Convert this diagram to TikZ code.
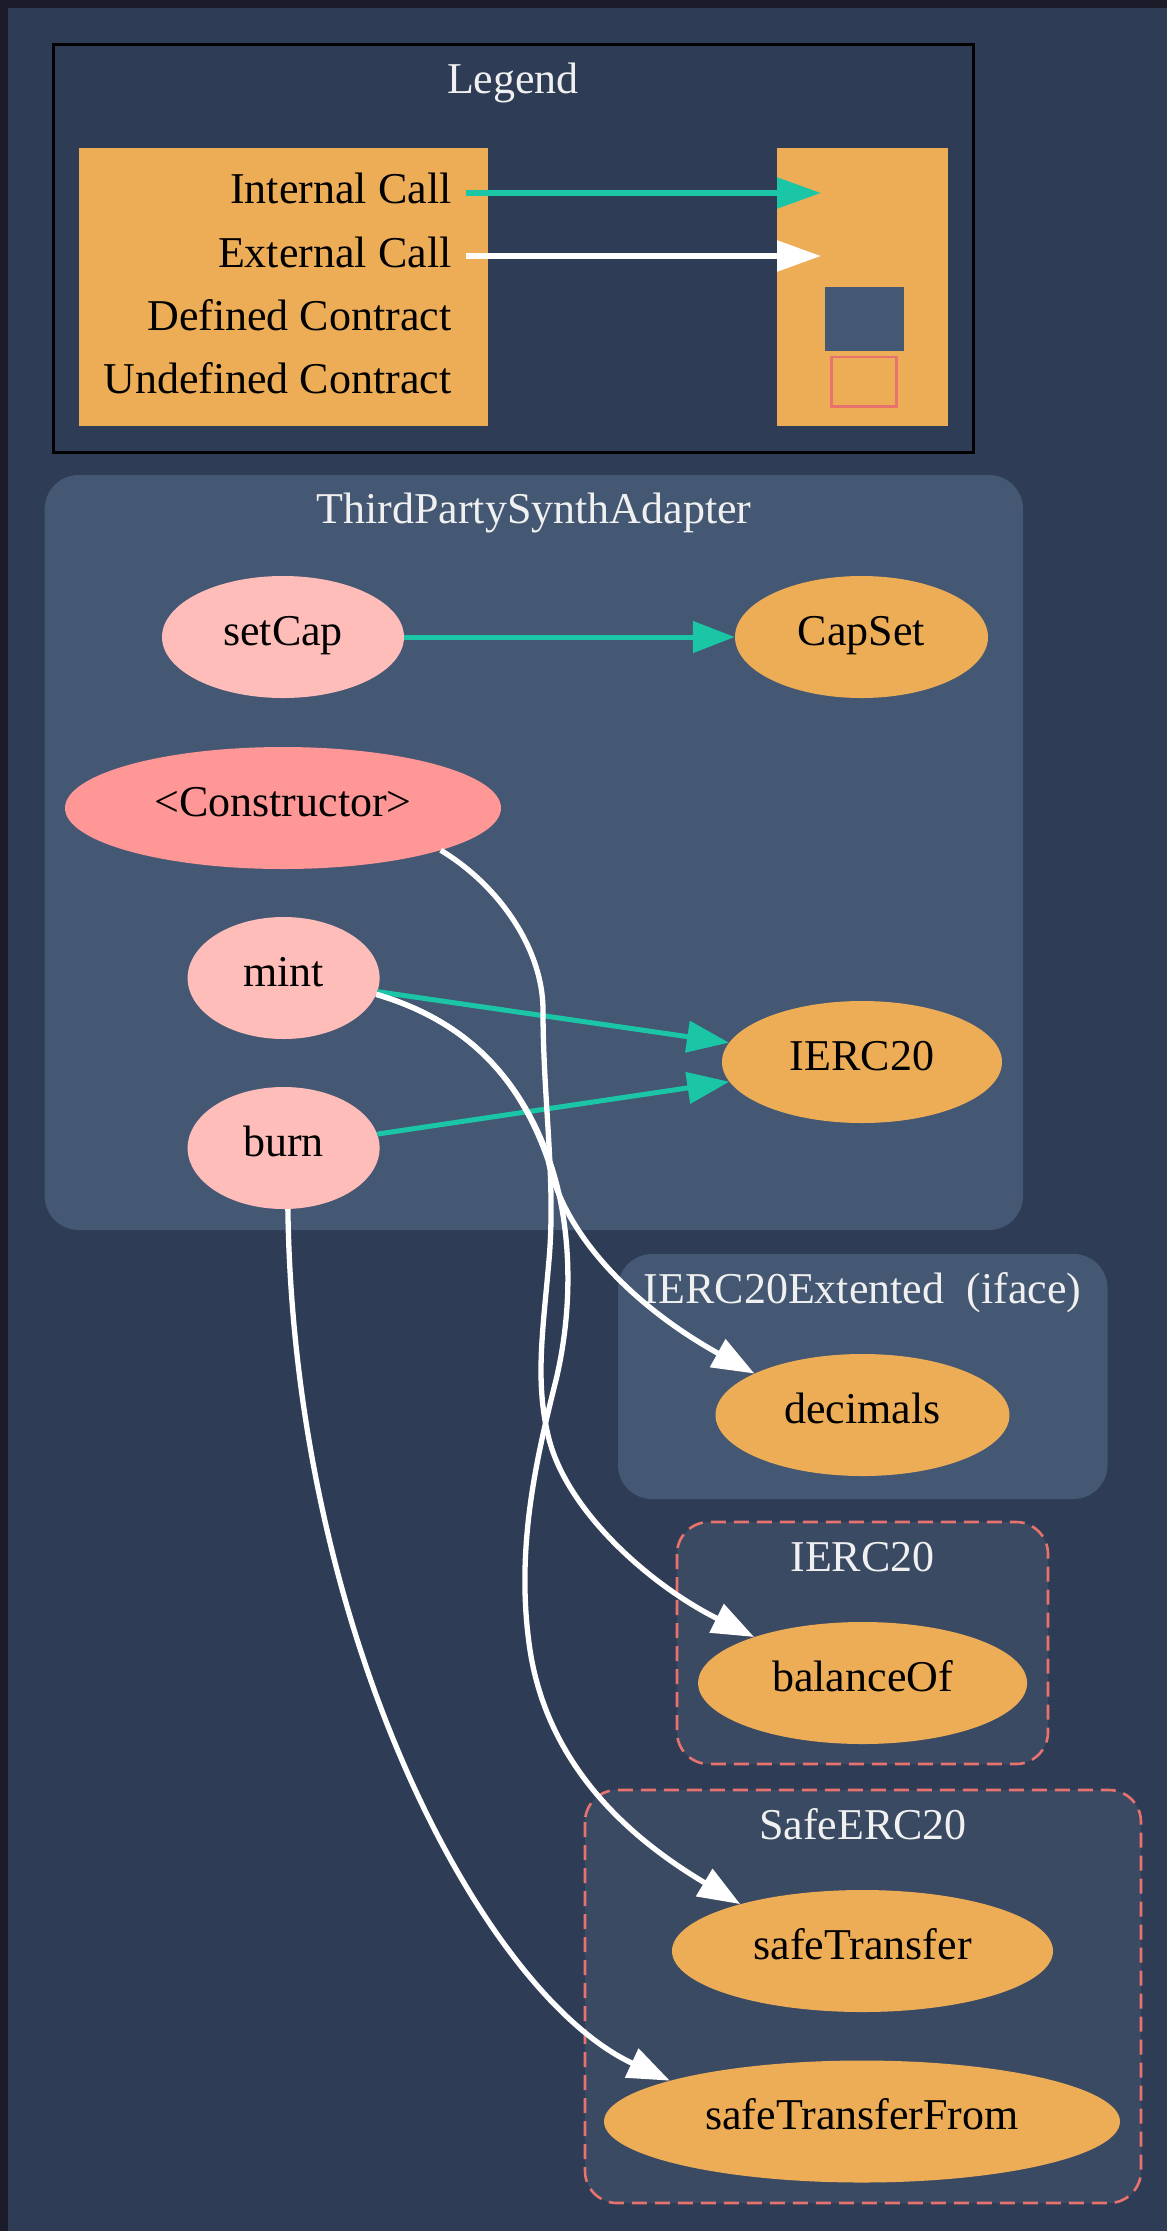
\documentclass[tikz,border=0pt]{standalone}
\usepackage{fontspec}
\setmainfont{Liberation Serif}
\usetikzlibrary{arrows.meta,shapes.geometric}

\definecolor{pagedark}{HTML}{1C1B29}
\definecolor{canvasblue}{HTML}{2E3D55}
\definecolor{clusterfill}{HTML}{445773}
\definecolor{undeffill}{HTML}{3B4A63}
\definecolor{undefline}{HTML}{E8726D}
\definecolor{fnpink}{HTML}{FFBDB9}
\definecolor{ctorpink}{HTML}{FF9797}
\definecolor{extorange}{HTML}{EDAD56}
\definecolor{callteal}{HTML}{1BC6A6}
\definecolor{titlegray}{HTML}{F0F0F0}

% strut giving every node label the same height and depth
\newcommand\nstrut{\rule[-0.33em]{0pt}{1.03em}}

\begin{document}
\begin{tikzpicture}[x=1pt,y=-1pt,
  every node/.style={font=\fontsize{44}{52}\selectfont},
  fnnode/.style n args={3}{ellipse, fill=#1, draw=none, inner sep=0pt,
    text=black, minimum width=#2, minimum height=#3},
  title/.style={anchor=base, text=titlegray},
  legendtext/.style={anchor=base east, text=black},
  internal/.style={draw=callteal, line width=5pt,
    -{Triangle[length=42pt,width=31pt]}},
  external/.style={draw=white, line width=5.3pt,
    -{Triangle[length=42pt,width=31pt]}},
  solidcluster/.style={fill=clusterfill, rounded corners=34pt},
  undefcluster/.style={fill=undeffill, draw=undefline, line width=2.6pt,
    dash pattern=on 15pt off 8pt, rounded corners=32pt},
]
\useasboundingbox (0,0) rectangle (1167,2231);

% page background
\fill[pagedark] (0,0) rectangle (1167,2231);
\fill[canvasblue] (8,8) rectangle (1167,2231);

% ---------- legend ----------
\draw[black, line width=3pt] (53.6,44) rectangle (973.5,452);
\node[title] (legendTitle) at (513,93) {Legend};
\fill[extorange] (79,148) rectangle (488,426);
\fill[extorange] (777,148) rectangle (947.5,426);
\node[legendtext] (lgInternal) at (455,203) {Internal Call};
\node[legendtext] (lgExternal) at (455,267) {External Call};
\node[legendtext] (lgDefined) at (455,330) {Defined Contract};
\node[legendtext] (lgUndefined) at (455,393) {Undefined Contract};
\coordinate (intFrom) at (466,193);
\coordinate (intTo) at (821,193);
\coordinate (extFrom) at (466,256);
\coordinate (extTo) at (821,256);
\draw[draw=callteal, line width=5.5pt, -{Triangle[length=44pt,width=30pt]}] (intFrom) -- (intTo);
\draw[draw=white, line width=5.5pt, -{Triangle[length=44pt,width=30pt]}] (extFrom) -- (extTo);
\fill[clusterfill] (824.6,287) rectangle (903.5,350.7);
\draw[undefline, line width=2.6pt] (831.5,357) rectangle (896.7,406.7);

% ---------- contract clusters ----------
\fill[solidcluster] (44.7,475) rectangle (1023,1230);
\node[title] (ttlAdapter) at (534,523) {ThirdPartySynthAdapter};

\fill[solidcluster] (618,1254) rectangle (1107.5,1499);
\node[title] (ttlExtended) at (862.5,1303) {IERC20Extented\ \ (iface)};

\draw[undefcluster] (677,1522) rectangle (1048,1764);
\node[title] (ttlIERC) at (862.5,1571) {IERC20};

\draw[undefcluster] (585,1790) rectangle (1141,2203);
\node[title] (ttlSafe) at (863,1839) {SafeERC20};

% ---------- functions ----------
\node[fnnode={fnpink}{242pt}{122pt}] (setCap) at (283,637) {\nstrut setCap};
\node[fnnode={extorange}{253pt}{122pt}] (capSet) at (861.5,637) {\nstrut CapSet};
\node[fnnode={ctorpink}{436pt}{122pt}] (ctor) at (283,808) {\nstrut <Constructor>};
\node[fnnode={fnpink}{192pt}{122pt}] (mint) at (283.6,978) {\nstrut mint};
\node[fnnode={fnpink}{192pt}{122pt}] (burn) at (283.6,1148) {\nstrut burn};
\node[fnnode={extorange}{280pt}{122pt}] (ierc) at (862,1062) {\nstrut IERC20};
\node[fnnode={extorange}{294pt}{122pt}] (decimals) at (862.5,1415) {\nstrut decimals};
\node[fnnode={extorange}{329pt}{122pt}] (balanceOf) at (862.6,1683) {\nstrut balanceOf};
\node[fnnode={extorange}{381pt}{122pt}] (safeTransfer) at (862.5,1951) {\nstrut safeTransfer};
\node[fnnode={extorange}{516pt}{122pt}] (safeTransferFrom) at (862,2121.5) {\nstrut safeTransferFrom};

% ---------- internal calls ----------
\draw[internal] (setCap) -- (capSet);
\draw[internal] (mint) -- (ierc);
\draw[internal] (burn) -- (ierc);

% ---------- external calls ----------
\draw[external] (ctor.345) .. controls (500,886) and (543,950) .. (543,1010)
  .. controls (543,1100) and (556,1180) .. (549,1260)
  .. controls (543,1330) and (535,1380) .. (548,1435)
  .. controls (565,1510) and (650,1585) .. (balanceOf.157);
\draw[external] (mint.-10) .. controls (470,1022) and (520,1080) .. (548,1160)
  .. controls (565,1240) and (640,1310) .. (decimals.159);
\draw[external] (mint.-10) .. controls (470,1022) and (522,1082) .. (550,1162)
  .. controls (570,1220) and (575,1300) .. (556,1380)
  .. controls (536,1460) and (515,1550) .. (530,1650)
  .. controls (550,1780) and (650,1850) .. (safeTransfer.159);
\draw[external] (burn.-86) .. controls (294,1640) and (485,1995)
  .. (safeTransferFrom.168);
\end{tikzpicture}
\end{document}
